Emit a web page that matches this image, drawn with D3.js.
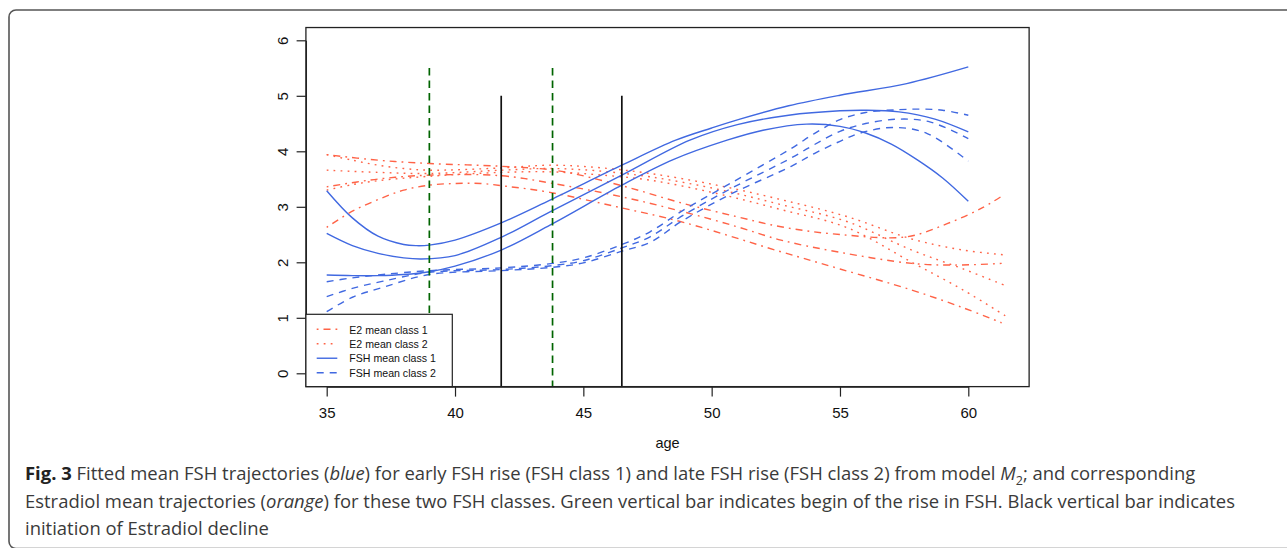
<!DOCTYPE html>
<html>
<head>
<meta charset="utf-8">
<script src="https://cdn.jsdelivr.net/npm/d3@7"></script>
<style>
  body { margin: 0; background: #fff; }
  svg { display: block; }
</style>
</head>
<body>
<svg id="fig" width="1287" height="548"></svg>
<script>
// ---- axis ticks ----
const ageTicks = [35, 40, 45, 50, 55, 60];
const valueTicks = [0, 1, 2, 3, 4, 5, 6];

// ---- fitted FSH mean trajectories, class 1 (early rise): band of three curves ----
const fsh1Upper = [[35,3.29],[36,2.80],[37,2.47],[38,2.32],[38.5,2.30],[39,2.31],[40,2.40],[41.8,2.71],[43.7,3.12],[46.5,3.75],[48.6,4.20],[50,4.42],[51.1,4.58],[53,4.82],[55,5.01],[57.6,5.22],[60,5.52]];
const fsh1Mean  = [[35,2.52],[36,2.30],[37,2.16],[38,2.08],[38.7,2.06],[40,2.12],[41.8,2.45],[43.7,2.91],[46.5,3.57],[49.15,4.20],[51,4.48],[53,4.65],[55,4.73],[56,4.74],[57.3,4.71],[58.7,4.58],[60,4.35]];
const fsh1Lower = [[35,1.77],[36,1.76],[37,1.76],[38,1.78],[39,1.83],[40,1.93],[41.8,2.22],[43.7,2.67],[46.5,3.39],[48.5,3.85],[50.6,4.20],[52,4.38],[53.7,4.49],[55,4.45],[56,4.33],[57,4.13],[58,3.85],[59,3.52],[60,3.10]];

// ---- fitted FSH mean trajectories, class 2 (late rise) ----
const fsh2Upper = [[35,1.65],[36,1.72],[37.2,1.78],[39,1.85],[41.8,1.90],[43.8,1.98],[45,2.08],[46.5,2.32],[47.6,2.55],[48.9,2.94],[50.8,3.44],[53.1,4.05],[54,4.32],[55,4.57],[56,4.70],[57.3,4.75],[58.2,4.76],[59,4.74],[60,4.65]];
const fsh2Mean  = [[35,1.38],[36,1.53],[37.2,1.66],[39,1.82],[41.8,1.87],[43.8,1.94],[45,2.03],[46.5,2.26],[47.6,2.46],[48.9,2.85],[50.8,3.34],[53.1,3.88],[54,4.12],[55,4.36],[56,4.50],[57.3,4.58],[58.5,4.53],[60,4.23]];
const fsh2Lower = [[35,1.11],[36,1.37],[37.2,1.55],[39,1.78],[41.8,1.85],[43.8,1.91],[45,1.99],[46.5,2.20],[47.6,2.36],[48.9,2.76],[50.8,3.24],[53.1,3.73],[54,3.96],[55,4.18],[55.8,4.33],[57.1,4.43],[58.4,4.32],[60,3.82]];

// ---- Estradiol (E2) mean trajectories for FSH class 1 ----
const e21Upper = [[35,3.94],[37,3.84],[39,3.78],[41.8,3.73],[44,3.65],[46.5,3.38],[48.9,3.06],[51,2.82],[52.7,2.64],[55,2.50],[57.6,2.46],[59.2,2.70],[60.5,2.97],[61.3,3.19]];
const e21Mean  = [[35,3.36],[37,3.50],[39,3.57],[41.8,3.56],[43.7,3.43],[46.5,3.18],[48.9,2.91],[51,2.64],[52.7,2.40],[55,2.18],[57.8,1.98],[59.5,1.95],[61.3,1.98]];
const e21Lower = [[35,2.63],[36,2.92],[37,3.13],[38,3.30],[39,3.39],[40,3.42],[41,3.42],[42,3.37],[43.7,3.26],[46.3,3.00],[48.9,2.72],[52.7,2.19],[55,1.88],[57.8,1.50],[59.8,1.18],[61.3,0.91]];

// ---- Estradiol (E2) mean trajectories for FSH class 2 ----
const e22Upper = [[35,3.94],[36,3.84],[37,3.75],[38,3.69],[39,3.66],[41.8,3.70],[43.7,3.75],[45.5,3.71],[47.6,3.60],[50.2,3.39],[52.7,3.13],[55.3,2.82],[57.8,2.42],[59.8,2.22],[61.5,2.13]];
const e22Mean  = [[35,3.66],[37,3.62],[39,3.60],[41.8,3.66],[43.7,3.69],[45.5,3.65],[47.6,3.54],[50.2,3.32],[52.7,3.04],[55.3,2.73],[57.8,2.22],[59.8,1.88],[61.5,1.57]];
const e22Lower = [[35,3.30],[36,3.40],[37,3.47],[39,3.55],[41.8,3.62],[43.7,3.63],[45.5,3.58],[47.6,3.48],[50.2,3.24],[52.7,2.95],[55.3,2.62],[57.8,2.00],[59.8,1.50],[61.5,1.02]];

// ---- reference ages ----
const riseOnsetAges = [39.0, 43.8];     // begin of FSH rise (green)
const riseMarkTop = 5.5;
const declineOnsetAges = [41.8, 46.5];  // initiation of Estradiol decline (black)
const declineMarkTop = 5;

// ---- legend ----
const legendLabels = ["E2 mean class 1", "E2 mean class 2", "FSH mean class 1", "FSH mean class 2"];

// ---- caption ----
const captionLines = [
  [{t:"Fig. 3", b:true}, {t:" Fitted mean FSH trajectories ("}, {t:"blue", i:true}, {t:") for early FSH rise (FSH class 1) and late FSH rise (FSH class 2) from model "}, {t:"M", i:true}, {t:"2", sub:true}, {t:"; and corresponding"}],
  [{t:"Estradiol mean trajectories ("}, {t:"orange", i:true}, {t:") for these two FSH classes. Green vertical bar indicates begin of the rise in FSH. Black vertical bar indicates"}],
  [{t:"initiation of Estradiol decline"}]
];

// ================= drawing =================
const BLUE = "#4169E1", RED = "#FF6347", GREEN = "#006400";
const svg = d3.select("#fig");

// outer figure frame
svg.append("rect")
  .attr("x", 9).attr("y", 10).attr("width", 1400).attr("height", 538.5)
  .attr("rx", 7).attr("fill", "none").attr("stroke", "#555").attr("stroke-width", 1.6);

const x = d3.scaleLinear().domain([35, 60]).range([326.7, 968.3]);
const y = d3.scaleLinear().domain([0, 6]).range([373.3, 40.3]);
const xlim = [34.19, 62.37], ylim = [-0.24, 6.23];
const bx0 = x(xlim[0]), bx1 = x(xlim[1]), by0 = y(ylim[1]), by1 = y(ylim[0]);

svg.append("defs").append("clipPath").attr("id", "plotclip")
  .append("rect").attr("x", bx0).attr("y", by0).attr("width", bx1 - bx0).attr("height", by1 - by0);

const plot = svg.append("g").attr("clip-path", "url(#plotclip)");
const line = d3.line().x(d => x(d[0])).y(d => y(d[1])).curve(d3.curveCatmullRom.alpha(0.5));

const styles = {
  dotdash: {color: RED, dash: "1.8,5,7,5"},
  dotted:  {color: RED, dash: "1.8,5.2"},
  solid:   {color: BLUE, dash: null},
  dashed:  {color: BLUE, dash: "7,6"}
};

const series = [
  {data: e21Upper, s: "dotdash"}, {data: e21Mean, s: "dotdash"}, {data: e21Lower, s: "dotdash"},
  {data: e22Upper, s: "dotted"},  {data: e22Mean, s: "dotted"},  {data: e22Lower, s: "dotted"},
  {data: fsh1Upper, s: "solid"},  {data: fsh1Mean, s: "solid"},  {data: fsh1Lower, s: "solid"},
  {data: fsh2Upper, s: "dashed"}, {data: fsh2Mean, s: "dashed"}, {data: fsh2Lower, s: "dashed"}
];

plot.selectAll("path.curve").data(series).join("path")
  .attr("class", "curve")
  .attr("d", d => line(d.data))
  .attr("fill", "none")
  .attr("stroke", d => styles[d.s].color)
  .attr("stroke-width", 1.4)
  .attr("stroke-dasharray", d => styles[d.s].dash);

// vertical reference bars
plot.selectAll("line.rise").data(riseOnsetAges).join("line")
  .attr("class", "rise")
  .attr("x1", d => x(d)).attr("x2", d => x(d))
  .attr("y1", y(riseMarkTop)).attr("y2", y(ylim[0]))
  .attr("stroke", GREEN).attr("stroke-width", 1.7).attr("stroke-dasharray", "7.5,5");

plot.selectAll("line.decline").data(declineOnsetAges).join("line")
  .attr("class", "decline")
  .attr("x1", d => x(d)).attr("x2", d => x(d))
  .attr("y1", y(declineMarkTop)).attr("y2", y(ylim[0]))
  .attr("stroke", "#111").attr("stroke-width", 1.7);

// plot box
svg.append("rect")
  .attr("x", bx0).attr("y", by0).attr("width", bx1 - bx0).attr("height", by1 - by0)
  .attr("fill", "none").attr("stroke", "#222").attr("stroke-width", 1.3);

// axes
const axisFont = "'Liberation Sans', Arial, Helvetica, sans-serif";
const gx = svg.append("g").attr("transform", `translate(0,${by1})`)
  .call(d3.axisBottom(x).tickValues(ageTicks).tickFormat(d3.format("d")).tickSize(10).tickSizeOuter(0));
gx.select(".domain").attr("stroke", "#222").attr("stroke-width", 1.2);
gx.selectAll(".tick line").attr("stroke", "#222").attr("stroke-width", 1.2);
gx.selectAll(".tick text")
  .attr("y", 418.3 - by1).attr("dy", null)
  .attr("fill", "#111").style("font-family", axisFont).style("font-size", "15px");

const gy = svg.append("g").attr("transform", `translate(${bx0},0)`)
  .call(d3.axisLeft(y).tickValues(valueTicks).tickFormat(d3.format("d")).tickSize(9.3).tickSizeOuter(0));
gy.select(".domain").attr("stroke", "#222").attr("stroke-width", 1.2);
gy.selectAll(".tick line").attr("stroke", "#222").attr("stroke-width", 1.2);
gy.selectAll(".tick text")
  .attr("x", 0).attr("y", 0).attr("dy", null)
  .attr("text-anchor", "middle")
  .attr("transform", `translate(${288.3 - bx0},0) rotate(-90)`)
  .attr("fill", "#111").style("font-family", axisFont).style("font-size", "15px");

svg.append("text")
  .attr("x", (bx0 + bx1) / 2).attr("y", 447.5).attr("text-anchor", "middle")
  .attr("fill", "#111").style("font-family", axisFont).style("font-size", "14.5px")
  .text("age");

// legend
const leg = svg.append("g");
leg.append("rect")
  .attr("x", bx0).attr("y", 314.3).attr("width", 452.3 - bx0).attr("height", by1 - 314.3)
  .attr("fill", "#fff").attr("stroke", "#222").attr("stroke-width", 1.2);
const legStyles = ["dotdash", "dotted", "solid", "dashed"];
const legRowY = d3.scaleLinear().domain([0, 3]).range([329.3, 372.7]);
legendLabels.forEach((lab, i) => {
  const st = styles[legStyles[i]];
  leg.append("line")
    .attr("x1", 316.7).attr("x2", 337.3).attr("y1", legRowY(i)).attr("y2", legRowY(i))
    .attr("stroke", st.color).attr("stroke-width", 1.4).attr("stroke-dasharray", st.dash);
  leg.append("text")
    .attr("x", 349.3).attr("y", legRowY(i) + 4.2)
    .attr("fill", "#111").style("font-family", axisFont).style("font-size", "10.6px")
    .text(lab);
});

// caption: one text per line, styled runs as tspans; the font size is
// chosen so the first line spans its column width
const capFont = "'Open Sans', 'Noto Sans', sans-serif";
const capBase = [480, 507.5, 535];
const capX = 25;
const capFirstLineWidth = 1175;
const capLines = captionLines.map((parts, li) => {
  const t = svg.append("text")
    .attr("x", capX).attr("y", capBase[li])
    .attr("fill", "#3a3a3a")
    .style("font-family", capFont).style("font-size", "20px")
    .attr("xml:space", "preserve");
  parts.forEach((p, pi) => {
    const ts = t.append("tspan").text(p.t);
    if (p.b) ts.style("font-weight", "bold").attr("fill", "#222");
    if (p.i) ts.style("font-style", "italic");
    if (p.sub) ts.attr("dy", 4.5).attr("class", "sub");
    else if (pi > 0 && parts[pi - 1].sub) ts.attr("dy", -4.5);
  });
  return t;
});
const capSize = 20 * capFirstLineWidth / capLines[0].node().getComputedTextLength();
capLines.forEach(t => {
  t.style("font-size", capSize + "px");
  t.selectAll("tspan.sub").style("font-size", (capSize * 0.68) + "px");
});
</script>
</body>
</html>
